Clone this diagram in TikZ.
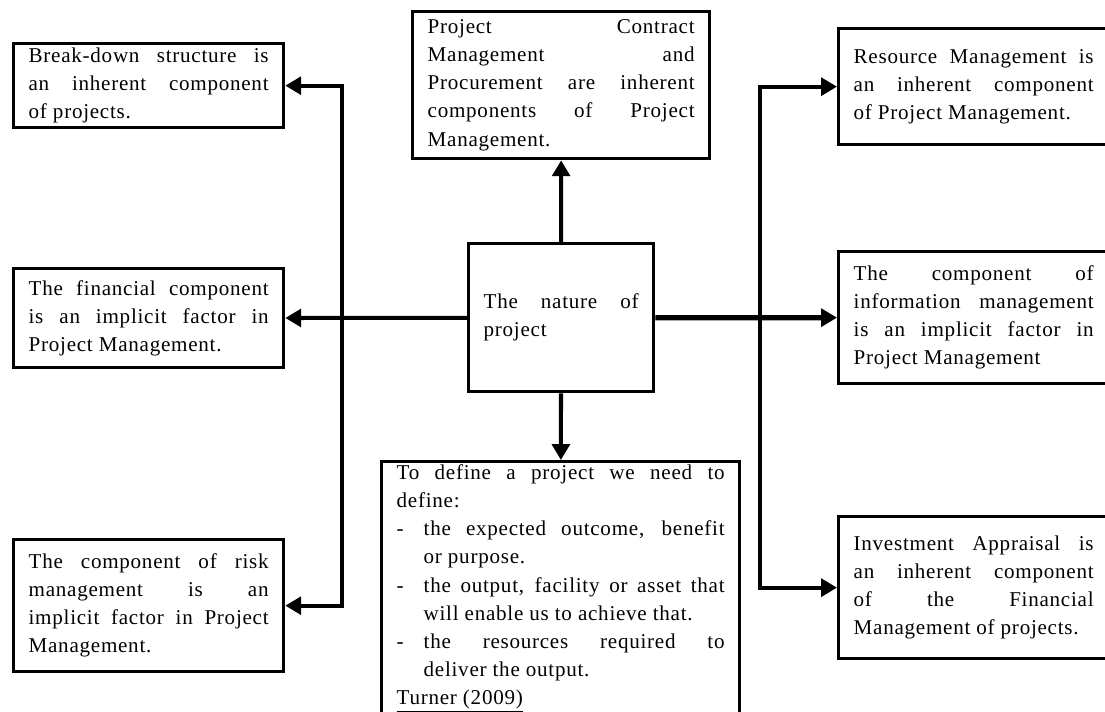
\documentclass[tikz,border=0pt]{standalone}
\usepackage{fontspec}
\setmainfont{Liberation Serif}
\newfontfamily\boxfont[LetterSpace=3.5]{Liberation Serif}
\usetikzlibrary{arrows.meta}
\hyphenpenalty=10000
\exhyphenpenalty=10000

\tikzset{
  box/.style={draw, line width=1.9pt, fill=white, anchor=north west,
    inner xsep=0.3cm, inner ysep=0.05cm, text width=4.8cm, align=justify,
    font=\boxfont\fontsize{12}{16}\selectfont},
  conn/.style={line width=2.3pt, -{Triangle[length=9pt,width=10pt]}},
  bus/.style={line width=2.3pt, {Triangle[length=9pt,width=10pt]}-{Triangle[length=9pt,width=10pt]}},
}
\newcommand{\dashitem}{\par\hangindent=0.54cm\hangafter=1\makebox[0.54cm][l]{-}}

\begin{document}
\begin{tikzpicture}[x=0.02cm, y=-0.02cm]
\useasboundingbox (0,0) rectangle (1105,711);
\clip (0,0) rectangle (1105,711);
\fill[white] (0,0) rectangle (1105,711); % page

% centre box
\node[box, text width=3.1cm, minimum height=2.96cm] (nat) at (467,242) {The nature of\linebreak project};

% top and bottom
\node[box, text width=5.34cm, minimum height=2.94cm] (contract) at (411,10) {Project Contract\linebreak Management and\linebreak Procurement are inherent\linebreak components of Project\linebreak Management.};
\node[box, text width=6.56cm, inner ysep=0cm, minimum height=5.08cm] (define) at (380,460) {To define a project we need to\linebreak define:
\dashitem the expected outcome, benefit\linebreak or purpose.
\dashitem the output, facility or asset that\linebreak will enable us to achieve that.
\dashitem the resources required to\linebreak deliver the output.
\par\underline{Turner (2009)}};

% left column
\node[box, minimum height=1.68cm] (brk) at (12,42) {Break-down structure is\linebreak an inherent component\linebreak of projects.};
\node[box, minimum height=1.98cm] (fin) at (12,267) {The financial component\linebreak is an implicit factor in\linebreak Project Management.};
\node[box, minimum height=2.64cm] (risk) at (12,538) {The component of risk\linebreak management is an\linebreak implicit factor in Project\linebreak Management.};

% right column
\node[box, minimum height=2.32cm] (res) at (837,27) {Resource Management is\linebreak an inherent component\linebreak of Project Management.};
\node[box, minimum height=2.64cm] (inf) at (837,250) {The component of\linebreak information management\linebreak is an implicit factor in\linebreak Project Management};
\node[box, minimum height=2.84cm] (inv) at (837,515) {Investment Appraisal is\linebreak an inherent component\linebreak of the Financial\linebreak Management of projects.};

% connectors
\coordinate (lbus) at (342,316);
\coordinate (rbus) at (760,316);
\draw[conn] (nat) -- (contract);
\draw[conn] (nat) -- (define);
\draw[conn] (nat) -- (fin);
\draw[conn, line width=3pt] (nat) -- (inf);
\draw[bus] (brk.east) -| (lbus) |- (risk.east);
\draw[bus] (res.west) -| (rbus) |- (inv.west);
\end{tikzpicture}
\end{document}
